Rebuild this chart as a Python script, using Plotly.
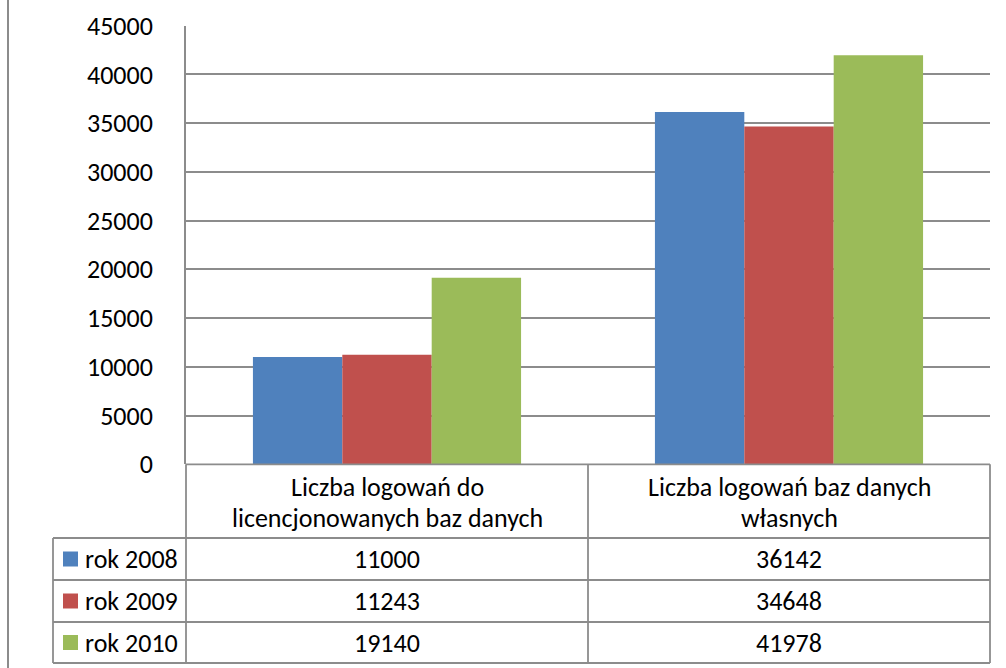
import plotly.graph_objects as go

W, H = 1006, 668

categories = ["Liczba logowań do licencjonowanych baz danych",
              "Liczba logowań baz danych własnych"]
category_lines = [["Liczba logowań do", "licencjonowanych baz danych"],
                  ["Liczba logowań baz danych", "własnych"]]
series_names = ["rok 2008", "rok 2009", "rok 2010"]
values_2008 = [11000, 36142]
values_2009 = [11243, 34648]
values_2010 = [19140, 41978]
series_values = [values_2008, values_2009, values_2010]
colors = ["#4F81BD", "#C0504D", "#9BBB59"]
tick_vals = [0, 5000, 10000, 15000, 20000, 25000, 30000, 35000, 40000, 45000]

FONT = "Carlito, Calibri, Lato, 'Open Sans', sans-serif"
FS = 26
GRID = "#8c8c8c"


def px(x):
    return x / W


def py(y):
    return 1 - y / H


# plot area pixel bounds
X0, X1 = 186, 990
Y_TOP, Y_ZERO = 25.7, 464.3
ROWS = [538, 580, 622, 663]
LEG_X = 53

fig = go.Figure()
for name, vals, col in zip(series_names, series_values, colors):
    fig.add_trace(go.Bar(x=[0, 1], y=vals, name=name, marker=dict(color=col, line=dict(width=0)),
                         showlegend=False))

shapes = []
line = dict(color=GRID, width=1.8)
shapes.append(dict(type="line", xref="paper", yref="paper", x0=px(8), x1=px(8), y0=0, y1=1,
                   line=dict(color="#8c8c8c", width=2)))
shapes.append(dict(type="line", xref="paper", yref="paper", x0=px(X0), x1=px(X1),
                   y0=py(Y_ZERO), y1=py(Y_ZERO), line=line))
for r in ROWS:
    shapes.append(dict(type="line", xref="paper", yref="paper", x0=px(LEG_X), x1=px(X1),
                       y0=py(r), y1=py(r), line=line))
shapes.append(dict(type="line", xref="paper", yref="paper", x0=px(LEG_X), x1=px(LEG_X),
                   y0=py(ROWS[0]), y1=py(ROWS[-1]), line=line))
mid = (X0 + X1) / 2
for xv in [X0, mid, X1]:
    shapes.append(dict(type="line", xref="paper", yref="paper", x0=px(xv), x1=px(xv),
                       y0=py(Y_ZERO), y1=py(ROWS[-1]), line=line))

annotations = []
for i, lines in enumerate(category_lines):
    for j, t in enumerate(lines):
        annotations.append(dict(x=i, xref="x", y=py(487 + 31 * j), yref="paper", text=t,
                                showarrow=False, xanchor="center", yanchor="middle",
                                font=dict(family=FONT, size=FS, color="#000")))
for k, (name, vals, col) in enumerate(zip(series_names, series_values, colors)):
    yc = (ROWS[k] + ROWS[k + 1]) / 2
    shapes.append(dict(type="rect", xref="paper", yref="paper", x0=px(63), x1=px(78),
                       y0=py(yc - 7.5), y1=py(yc + 7.5), fillcolor=col, line=dict(width=0)))
    annotations.append(dict(x=px(83), xref="paper", y=py(yc), yref="paper", text=name,
                            showarrow=False, xanchor="left", yanchor="middle",
                            font=dict(family=FONT, size=FS, color="#000")))
    for i, v in enumerate(vals):
        annotations.append(dict(x=i, xref="x", y=py(yc), yref="paper", text=str(v),
                                showarrow=False, xanchor="center", yanchor="middle",
                                font=dict(family=FONT, size=FS, color="#000")))

fig.update_layout(
    width=W, height=H,
    margin=dict(l=0, r=0, t=0, b=0, autoexpand=False),
    paper_bgcolor="white", plot_bgcolor="white",
    barmode="group", bargap=0.333, bargroupgap=0,
    shapes=shapes, annotations=annotations,
    xaxis=dict(domain=[px(X0), px(X1)], range=[-0.5, 1.5], showticklabels=False,
               showgrid=False, zeroline=False, showline=False, fixedrange=True,
               automargin=False),
    yaxis=dict(domain=[py(Y_ZERO), py(Y_TOP)], range=[0, 45000], tickvals=tick_vals,
               tickformat="d", automargin=False,
               showgrid=True, gridcolor=GRID, gridwidth=1.8, zeroline=False,
               showline=True, linecolor=GRID, linewidth=1.8, ticks="",
               ticklabelstandoff=26,
               tickfont=dict(family=FONT, size=FS, color="#000"), fixedrange=True),
    showlegend=False,
)

fig.write_html("out.html", config={"displayModeBar": False},
               post_script="document.body.style.margin='0';document.body.style.overflow='hidden';")
